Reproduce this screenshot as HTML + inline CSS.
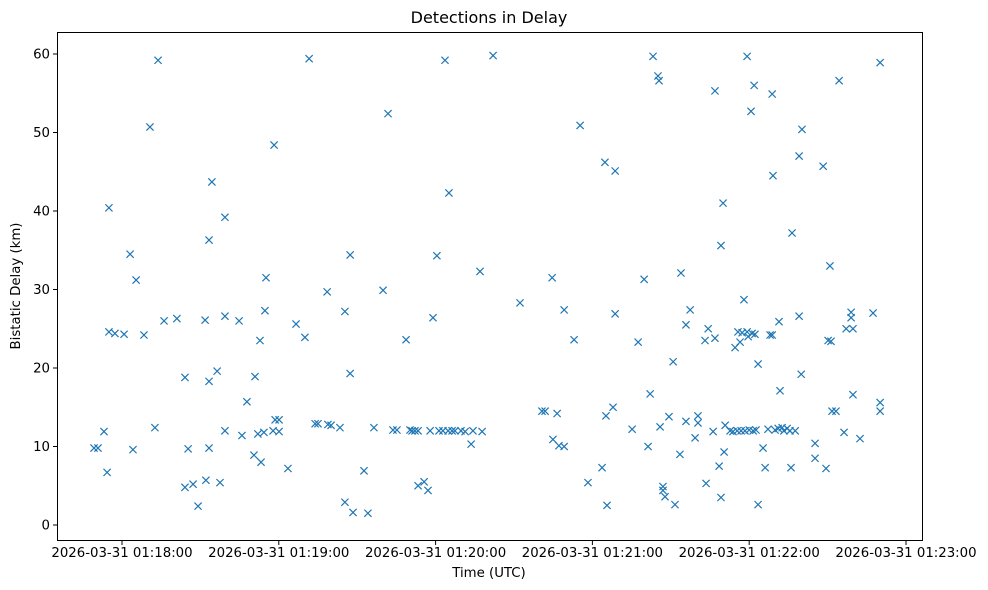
<!DOCTYPE html>
<html><head><meta charset="utf-8"><style>
body{margin:0;background:#fff;}
svg{display:block;font-family:"DejaVu Sans","Liberation Sans",sans-serif;}
</style></head><body>
<svg id="chart" width="988" height="590">
<text x="489" y="23" text-anchor="middle" font-size="16">Detections in Delay</text>
<text x="489" y="577" text-anchor="middle" font-size="13.3">Time (UTC)</text>
<text transform="translate(20,286) rotate(-90)" text-anchor="middle" font-size="13.3">Bistatic Delay (km)</text>
<g id="ticks"></g>
<g id="marks"></g>
<rect x="57.5" y="32.5" width="865" height="508" fill="none" stroke="#000" stroke-width="1"/>
</svg>
<script>
// seconds after 01:18:00 UTC
const times = [-10.7,-9.2,-6.9,-5.7,-5.0,-5.0,-2.7,0.8,3.1,4.2,5.4,8.4,10.7,12.6,13.8,16.1,21.0,24.1,25.3,24.1,27.2,29.1,31.8,32.1,33.3,33.3,33.3,34.4,36.4,37.5,39.4,39.4,39.4,44.8,45.9,47.8,50.5,50.9,52.0,52.8,53.2,54.3,54.7,55.1,57.8,58.2,58.6,60.1,60.1,63.5,66.6,70.0,71.6,73.9,75.0,78.5,78.8,80.0,83.4,85.3,85.3,87.3,87.3,88.4,92.6,94.1,96.4,99.9,101.8,103.7,105.2,108.7,110.2,111.0,112.1,113.3,113.3,115.6,117.1,117.9,119.0,120.5,121.3,122.8,123.6,124.8,125.1,126.3,127.4,129.7,131.3,133.6,134.3,137.0,137.8,142.0,152.3,160.7,161.9,164.6,164.9,166.5,167.2,169.2,169.2,173.0,175.3,178.3,183.7,184.8,185.2,185.6,187.9,188.7,188.7,195.2,197.5,199.8,201.3,202.1,203.2,205.1,205.5,205.9,207.0,207.0,207.8,209.3,210.9,211.6,213.5,213.9,215.8,215.8,217.4,219.3,220.4,220.4,223.1,223.5,224.3,226.2,226.9,226.9,228.5,229.2,229.2,230.0,230.4,230.8,232.7,233.8,234.6,235.4,235.7,236.5,236.9,237.3,238.0,238.4,239.2,239.2,239.6,240.0,240.7,241.1,241.5,241.9,242.2,242.6,243.4,243.4,245.3,246.1,247.2,248.0,248.8,248.8,249.1,249.9,251.1,251.4,251.8,252.6,253.3,254.5,255.6,256.0,256.4,257.6,259.1,259.1,259.9,260.2,265.2,265.2,268.3,269.4,270.2,270.9,271.3,271.7,273.2,274.4,276.3,277.1,279.0,279.0,279.7,279.7,282.4,287.4,290.1,290.1,290.1];
const delays = [9.8,9.8,11.9,6.7,40.4,24.6,24.4,24.3,34.5,9.6,31.2,24.2,50.7,12.4,59.2,26.0,26.3,18.8,9.7,4.8,5.2,2.4,26.1,5.7,36.3,18.3,9.8,43.7,19.6,5.4,39.2,26.6,12.0,26.0,11.4,15.7,8.9,18.9,11.6,23.5,8.0,11.8,27.3,31.5,12.0,48.4,13.4,13.4,11.9,7.2,25.6,23.9,59.4,12.9,12.9,29.7,12.8,12.7,12.4,27.2,2.9,34.4,19.3,1.6,6.9,1.5,12.4,29.9,52.4,12.1,12.1,23.6,12.1,12.0,12.0,12.0,5.0,5.5,4.4,12.0,26.4,34.3,12.0,12.0,59.2,12.0,42.3,12.0,12.0,12.0,11.9,10.3,12.0,32.3,11.9,59.8,28.3,14.5,14.5,31.5,10.9,14.2,10.1,10.0,27.4,23.6,50.9,5.4,7.3,46.2,13.9,2.5,15.0,45.1,26.9,12.2,23.3,31.3,10.0,16.7,59.7,57.2,56.6,12.5,4.9,4.4,3.6,13.8,20.8,2.6,9.0,32.1,25.5,13.2,27.4,11.1,13.9,13.0,23.5,5.3,25.0,11.9,55.3,23.8,7.5,3.5,35.6,41.0,9.3,12.7,12.0,11.9,22.6,12.0,24.6,23.3,12.0,24.5,28.7,12.0,24.6,59.7,24.0,12.1,52.7,24.4,12.0,56.0,24.3,12.1,20.5,2.6,9.8,7.3,12.2,24.2,24.2,54.9,44.5,12.1,12.3,25.9,17.1,12.4,12.0,12.3,12.0,7.3,37.2,12.0,26.6,47.0,19.2,50.4,10.4,8.5,45.7,7.2,23.5,33.0,23.4,14.5,14.5,56.6,11.8,25.0,27.1,26.4,25.0,16.6,11.0,27.0,58.9,15.6,14.5];
const xTickSecs = [0,60,120,180,240,300];
const xTickLabels = ["2026-03-31 01:18:00","2026-03-31 01:19:00","2026-03-31 01:20:00","2026-03-31 01:21:00","2026-03-31 01:22:00","2026-03-31 01:23:00"];
const yTicks = [0,10,20,30,40,50,60];

const NS="http://www.w3.org/2000/svg";
function xs(s){return 122+s*2.6133;}
function ys(v){return 525-v*7.85;}
function mk(tag,attrs,parent){const e=document.createElementNS(NS,tag);for(const k in attrs)e.setAttribute(k,attrs[k]);parent.appendChild(e);return e;}
const tg=document.getElementById('ticks');
xTickSecs.forEach((s,i)=>{
  const x=xs(s);
  const l=mk('line',{x1:x,x2:x,y1:540.5,y2:545,stroke:'#000'},tg);
  
  
  const t=mk('text',{x:x,y:557,'text-anchor':'middle','font-size':'13.3'},tg);
  t.textContent=xTickLabels[i];
  
  
});
yTicks.forEach(v=>{
  const y=ys(v);
  const l=mk('line',{x1:53,x2:57.5,y1:y,y2:y,stroke:'#000'},tg);
  
  
  const t=mk('text',{x:50,y:y+4.5,'text-anchor':'end','font-size':'13.3'},tg);
  t.textContent=v;
  
  
});
const mg=document.getElementById('marks');
times.forEach((s,i)=>{
  const x=xs(s),y=ys(delays[i]),r=3.6;
  const p=mk('path',{d:`M${x-r},${y-r}L${x+r},${y+r}M${x-r},${y+r}L${x+r},${y-r}`,stroke:'#1f77b4','stroke-width':'1.2',fill:'none'},mg);
  
  
});
</script>
</body></html>
